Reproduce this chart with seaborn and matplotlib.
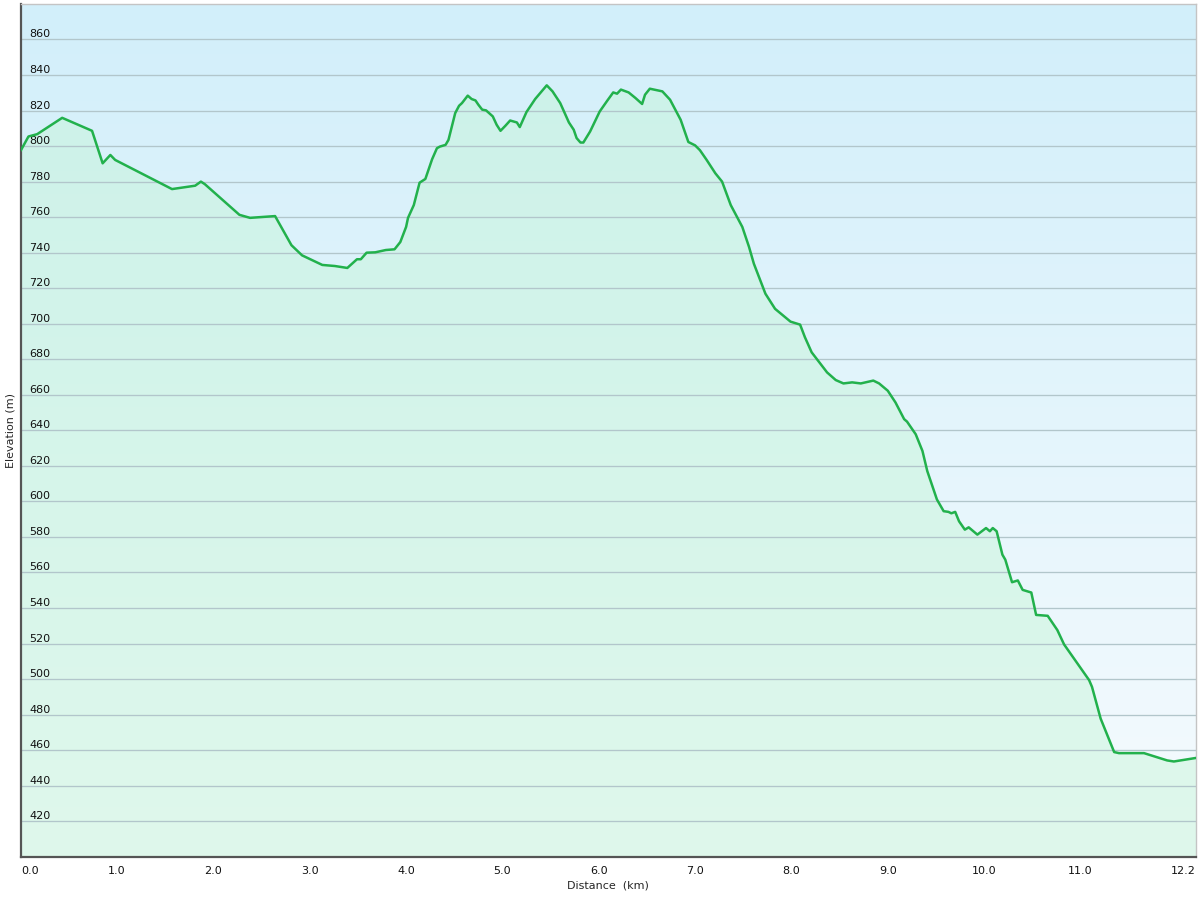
import matplotlib
matplotlib.use('Agg')
import matplotlib.pyplot as plt
import numpy as np
import pandas as pd
import seaborn as sns

# distance along the track (km) and elevation (m)
distance_km = [0.00, 0.08, 0.17, 0.43, 0.74, 0.85, 0.93, 0.98, 1.57, 1.81,
               1.87, 1.91, 2.27, 2.38, 2.64, 2.81, 2.92, 3.13, 3.26, 3.39,
               3.49, 3.53, 3.59, 3.68, 3.79, 3.88, 3.94, 4.00, 4.02, 4.08,
               4.14, 4.20, 4.27, 4.32, 4.35, 4.41, 4.44, 4.51, 4.55, 4.58,
               4.64, 4.68, 4.72, 4.75, 4.79, 4.83, 4.90, 4.94, 4.98, 5.03,
               5.08, 5.15, 5.18, 5.25, 5.34, 5.46, 5.52, 5.60, 5.69, 5.74,
               5.77, 5.81, 5.84, 5.91, 6.01, 6.09, 6.15, 6.19, 6.23, 6.31,
               6.38, 6.45, 6.48, 6.53, 6.66, 6.74, 6.85, 6.93, 7.00, 7.05,
               7.12, 7.21, 7.28, 7.37, 7.49, 7.56, 7.61, 7.73, 7.83, 7.99,
               8.09, 8.14, 8.21, 8.37, 8.46, 8.54, 8.63, 8.72, 8.85, 8.91,
               9.00, 9.08, 9.17, 9.20, 9.29, 9.36, 9.41, 9.51, 9.58, 9.63,
               9.66, 9.70, 9.74, 9.80, 9.84, 9.93, 10.02, 10.06, 10.09, 10.13,
               10.19, 10.22, 10.29, 10.35, 10.40, 10.49, 10.54, 10.66, 10.76, 10.83,
               11.09, 11.12, 11.21, 11.35, 11.40, 11.66, 11.90, 11.97, 12.20]
elevation_m = [797.5, 805.4, 806.7, 815.9, 808.6, 790.3, 795.0, 792.2, 775.8, 777.7,
               780.0, 778.6, 761.3, 759.6, 760.6, 744.2, 738.5, 733.1, 732.5, 731.4,
               736.3, 736.3, 740.0, 740.2, 741.5, 741.9, 746.0, 754.5, 759.6, 766.8,
               779.4, 781.5, 792.6, 798.8, 799.7, 800.7, 803.5, 818.6, 822.7, 824.2,
               828.4, 826.5, 825.7, 823.3, 820.5, 820.1, 816.7, 812.0, 808.6, 811.4,
               814.4, 813.3, 810.7, 819.2, 826.5, 834.2, 830.8, 824.2, 813.3, 809.2,
               804.5, 802.0, 802.0, 808.2, 819.5, 825.7, 830.2, 829.5, 831.8, 830.2,
               827.1, 823.7, 828.9, 832.3, 830.8, 826.1, 814.8, 802.3, 800.4, 797.7,
               792.2, 784.7, 780.0, 766.8, 754.5, 743.2, 733.8, 716.9, 708.4, 701.2,
               699.5, 692.4, 683.9, 672.6, 668.3, 666.4, 667.0, 666.4, 668.0, 666.4,
               662.3, 655.7, 646.3, 644.9, 637.8, 628.4, 617.1, 601.1, 594.5, 594.1,
               593.3, 594.1, 588.8, 584.1, 585.4, 581.3, 585.0, 583.2, 585.0, 583.2,
               570.0, 567.2, 554.5, 555.5, 550.2, 548.7, 536.1, 535.6, 527.6, 519.5,
               499.4, 495.6, 477.7, 458.9, 458.3, 458.3, 454.2, 453.6, 455.6]

y_ticks = list(range(420, 861, 20))
x_ticks = [0, 1, 2, 3, 4, 5, 6, 7, 8, 9, 10, 11, 12.2]
x_tick_labels = ['0.0', '1.0', '2.0', '3.0', '4.0', '5.0', '6.0', '7.0',
                 '8.0', '9.0', '10.0', '11.0', '12.2']

df = pd.DataFrame({'distance': distance_km, 'elevation': elevation_m})

sns.set_style('white')
plt.rcParams['font.family'] = ['DejaVu Sans']

fig = plt.figure(figsize=(12, 9), dpi=100)
ax = fig.add_axes([0.0173, 0.0481, 0.9794, 0.9475])
ax.set_axisbelow(False)

xmin, xmax, ymin, ymax = 0, 12.2, 400, 880

# background gradient: light cyan at the top fading to near-white at the bottom
top = np.array([210, 239, 250]) / 255
bottom = np.array([246, 251, 254]) / 255
t = np.linspace(0, 1, 256)[:, None]
grad = top * (1 - t) + bottom * t
ax.imshow(grad[:, None, :].repeat(2, axis=1), extent=[xmin, xmax, ymin, ymax],
          aspect='auto', origin='upper', zorder=0)

# green tinted area under the profile
ax.fill_between(df['distance'], df['elevation'], ymin, color='#c4f5d6',
                alpha=0.45, lw=0, zorder=1)

for v in y_ticks:
    ax.axhline(v, color='#b2c6cb', lw=0.95, zorder=2)

sns.lineplot(data=df, x='distance', y='elevation', color='#22b14c', lw=1.8,
             ax=ax, zorder=3, sort=False)

ax.set_xlim(xmin, xmax)
ax.set_ylim(ymin, ymax)

ax.set_xticks(x_ticks)
ax.set_xticklabels(x_tick_labels, fontsize=8, color='#111111')
ax.tick_params(axis='x', direction='out', length=4, width=1.2, color='#555555', pad=3)
xlabels = ax.get_xticklabels()
xlabels[0].set_horizontalalignment('left')
xlabels[-1].set_horizontalalignment('right')

ax.set_yticks(y_ticks)
ax.set_yticklabels([str(v) for v in y_ticks], fontsize=8, color='#111111')
ax.tick_params(axis='y', length=0, pad=-6)
for lbl in ax.get_yticklabels():
    lbl.set_horizontalalignment('left')
    lbl.set_verticalalignment('bottom')

ax.set_xlabel('Distance  (km)', fontsize=8, labelpad=3)
ax.set_ylabel('Elevation (m)', fontsize=8, labelpad=4)

for side in ['left', 'bottom']:
    ax.spines[side].set_color('#555555')
    ax.spines[side].set_linewidth(1.6)
for side in ['top', 'right']:
    ax.spines[side].set_color('#c4c4c4')
    ax.spines[side].set_linewidth(1.0)

fig.savefig('out.png', dpi=100)
